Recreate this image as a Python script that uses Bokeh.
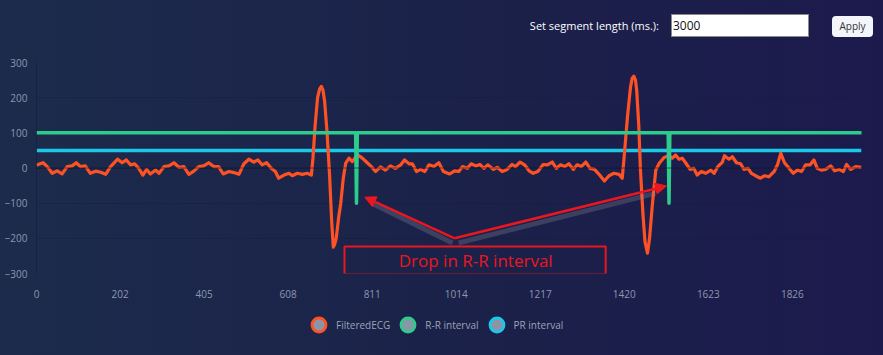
from bokeh.plotting import figure
from bokeh.models import (Range1d, FixedTicker, Legend, LegendItem, Span, BoxAnnotation,
                          Label, Arrow, NormalHead, Div)
from bokeh.layouts import column
from bokeh.embed import file_html
from bokeh.resources import INLINE

# ---------------- data ----------------
ecg_x = [0, 2, 16, 26, 38, 50, 62, 74, 86, 96, 106, 118, 130, 143, 155, 167, 179, 196, 207, 217, 227,
         237, 247, 257, 266, 275, 288, 296, 308, 320, 332, 344, 356, 368, 380, 392, 404, 416, 428, 440,
         451, 465, 477, 489, 501, 513, 525, 535, 545, 556, 567, 577, 585, 598, 610, 618, 630, 642, 654,
         664, 668, 673, 679, 684, 688, 692, 696, 702, 708, 713, 717, 720, 724, 730, 735, 741, 747, 755,
         763, 775, 787, 797, 809, 819, 831, 843, 855, 867, 880, 889, 900, 908, 918, 928, 938, 948, 960,
         972, 983, 998, 1010, 1020, 1029, 1041, 1050, 1061, 1071, 1081, 1090, 1104, 1113, 1125, 1137,
         1149, 1157, 1168, 1179, 1190, 1200, 1211, 1224, 1234, 1246, 1256, 1266, 1276, 1286, 1297, 1306,
         1316, 1327, 1337, 1348, 1359, 1372, 1383, 1395, 1407, 1415, 1419, 1423, 1428, 1435, 1439, 1443,
         1447, 1450, 1455, 1459, 1465, 1470, 1476, 1481, 1488, 1496, 1504, 1516, 1528, 1536, 1544, 1552,
         1560, 1568, 1579, 1588, 1596, 1606, 1617, 1629, 1637, 1646, 1657, 1662, 1673, 1681, 1691, 1701,
         1709, 1719, 1727, 1737, 1749, 1759, 1769, 1782, 1790, 1798, 1807, 1818, 1828, 1838, 1848, 1858,
         1869, 1878, 1886, 1896, 1906, 1919, 1928, 1939, 1949, 1957, 1967, 1979, 1993]
ecg_y = [8, 9, 15, 4, -15, -8, -17, 4, 6, 15, 4, 6, -15, -9, -12, -18, 4, 25, 15, 23, 9,
         12, -1, -20, -4, -17, -6, -15, 4, 6, 15, 2, 4, -18, -9, 4, 6, 15, 4, 4,
         -17, -10, -13, -18, 12, 25, 17, 23, 9, 15, -1, -10, -29, -20, -15, -22, -15, -18, -15,
         -20, 30, 120, 200, 225, 232, 222, 190, 100, -20, -150, -225, -218, -200, -140, -100, -30, 14, 28,
         18, 38, 28, 17, 4, -10, 3, -6, 6, -1, 9, 23, 12, 12, -10, -4, -10, 9, 4,
         15, -10, -17, -8, -10, 4, -1, 12, 6, 10, -1, 9, -4, 2, -10, -4,
         10, 4, 17, 9, -8, -15, -10, 10, 9, 17, -1, 9, 4, 12, -4, 9,
         4, 17, -1, -4, -18, -37, -22, -15, -18, -29, 23, 80, 150, 230, 255, 261,
         250, 220, 120, -6, -130, -210, -242, -200, -101, -6, 13, 30, 35, 28, 37, 25,
         28, 15, -4, -1, -20, -10, -15, -6, -15, 4, 17, 35, 25, 32, 15, 12,
         -4, -1, -15, -22, -29, -22, -25, -10, 9, 42, 15, -1, -15, -6, -10, 9,
         9, 23, -1, -6, -4, 6, -8, -4, -10, 10, -4, 4, 2]

rr_x = [0, 771, 773, 775, 1526, 1528, 1530, 1993]
rr_y = [100, 100, -100, 100, 100, -100, 100, 100]

pr_x = [0, 1993]
pr_y = [50, 50]

x_ticks = [0, 202, 405, 608, 811, 1014, 1217, 1420, 1623, 1826]
y_ticks = [-300, -200, -100, 0, 100, 200, 300]

series_names = ["FilteredECG", "R-R interval", "PR interval"]
series_colors = ["#ff5224", "#2ecc8c", "#1cc8e8"]

annotation_text = "Drop in R-R interval"
control_label = "Set segment length (ms.):"
control_value = "3000"
button_label = "Apply"

# ---------------- figure ----------------
FONT = "Open Sans"
TICK_COLOR = "#8d97b0"
RED = "#ea1620"

p = figure(frame_width=825, frame_height=211, output_backend="svg", toolbar_location=None,
           x_range=Range1d(0, 1993), y_range=Range1d(-300, 300),
           min_border_left=36, min_border_right=22, min_border_top=22, min_border_bottom=30)
p.background_fill_alpha = 0
p.border_fill_alpha = 0
p.outline_line_color = None

p.xaxis.ticker = FixedTicker(ticks=x_ticks)
p.yaxis.ticker = FixedTicker(ticks=y_ticks)
for ax in (p.xaxis, p.yaxis):
    ax.major_tick_line_color = None
    ax.minor_tick_line_color = None
    ax.major_label_text_font = FONT
    ax.major_label_text_font_size = "10px"
    ax.major_label_text_color = TICK_COLOR
p.xaxis.axis_line_color = None
p.yaxis.axis_line_color = "#111a33"
p.yaxis.axis_line_alpha = 0.5
p.xaxis.major_label_standoff = 10
p.yaxis.major_label_standoff = 3

p.xgrid.grid_line_color = None
p.ygrid.grid_line_color = "#0f1730"
p.ygrid.grid_line_alpha = 0.25

p.add_layout(Span(location=0, dimension="width", line_color="#0f1730", line_alpha=0.6, line_width=1))

pr = p.line(pr_x, pr_y, line_color=series_colors[2], line_width=3.5)
ecg = p.line(ecg_x, ecg_y, line_color=series_colors[0], line_width=3.2, line_join="round")
rr = p.line(rr_x, rr_y, line_color=series_colors[1], line_width=3.5, line_join="round", line_cap="round")

# ---------------- annotation ----------------
p.add_layout(Arrow(end=None, x_start=1005, y_start=-213, x_end=815, y_end=-103,
                   line_color="#8a8c98", line_alpha=0.3, line_width=5))
p.add_layout(Arrow(end=None, x_start=1020, y_start=-213, x_end=1495, y_end=-72,
                   line_color="#8a8c98", line_alpha=0.3, line_width=5))
p.add_layout(Arrow(end=NormalHead(size=11, fill_color=RED, line_color=RED),
                   x_start=1010, y_start=-200, x_end=793, y_end=-83,
                   line_color=RED, line_width=2.5))
p.add_layout(Arrow(end=NormalHead(size=11, fill_color=RED, line_color=RED),
                   x_start=1010, y_start=-200, x_end=1522, y_end=-51,
                   line_color=RED, line_width=2.5))
p.add_layout(BoxAnnotation(left=744, right=1375, bottom=-302, top=-223,
                           fill_alpha=0, line_color=RED, line_alpha=1, line_width=2))
p.add_layout(Label(x=1061, y=-264, text=annotation_text, text_align="center",
                   text_baseline="middle", text_color=RED, text_font=FONT,
                   text_font_size="17px"))

# ---------------- legend (own strip below the chart) ----------------
lf = figure(width=883, height=42, output_backend="svg", toolbar_location=None,
            x_range=Range1d(0, 1), y_range=Range1d(0, 1),
            min_border_left=0, min_border_right=0, min_border_top=0, min_border_bottom=0)
lf.axis.visible = False
lf.grid.visible = False
lf.outline_line_color = None
lf.background_fill_alpha = 0
lf.border_fill_alpha = 0
# legend-only swatches: one anchor outside the strip's visible range
swatch_x = [-5]
swatch_y = [-5]
leg_renderers = []
for c in series_colors:
    r = lf.circle(x=swatch_x, y=swatch_y, radius=0.01, fill_color="#8c95a8",
                  line_color=c, line_width=2.8)
    leg_renderers.append(r)
legend = Legend(items=[LegendItem(label=n, renderers=[r]) for n, r in zip(series_names, leg_renderers)],
                orientation="horizontal", location=(265, 3),
                glyph_width=35, glyph_height=35, label_standoff=-6, spacing=-5,
                padding=0, margin=0, background_fill_alpha=0, border_line_alpha=0,
                label_text_font=FONT, label_text_font_size="10px", label_text_color="#9aa3b8")
lf.add_layout(legend)

# ---------------- top controls ----------------
html = f"""
<div style="position:relative;width:883px;height:40px;font-family:'Open Sans',sans-serif;">
  <span style="position:absolute;right:224px;top:18px;color:#ffffff;font-size:11px;line-height:15px;white-space:nowrap;">{control_label}</span>
  <div style="position:absolute;left:671px;top:14px;width:138px;height:23px;background:#ffffff;border:1px solid #8a8a8a;box-sizing:border-box;font-size:12px;color:#111;line-height:21px;padding-left:1px;">{control_value}</div>
  <div style="position:absolute;left:832px;top:16px;width:41px;height:21px;background:#f3f5fa;border-radius:4px;font-size:10px;color:#333;text-align:center;line-height:21px;">{button_label}</div>
</div>
"""
top = Div(text=html, width=883, height=40, margin=0)

layout = column(top, p, lf, spacing=0)

page = file_html(layout, INLINE)
page = page.replace("</head>",
                    "<style>html{height:100%;background:linear-gradient(90deg,#1c2b4c 0%,#1b2149 55%,#1c1a4d 100%);}"
                    "body{margin:0;background:transparent;overflow:hidden;}</style></head>", 1)
open("out.html", "w").write(page)
